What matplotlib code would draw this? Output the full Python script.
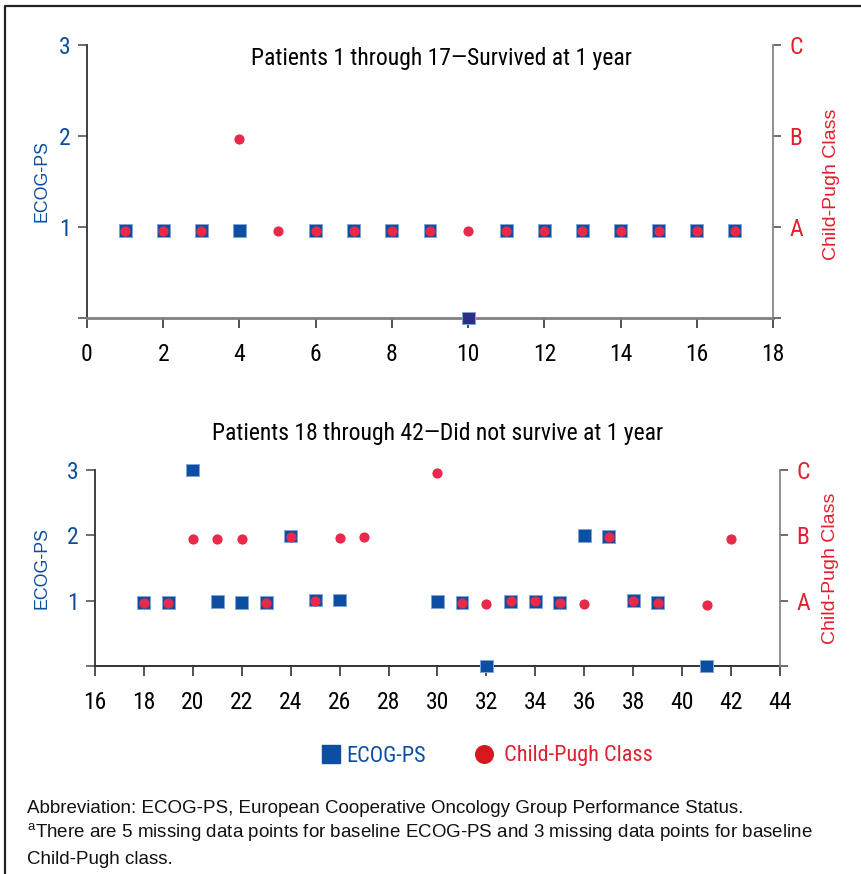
import matplotlib
matplotlib.use("Agg")
import matplotlib.pyplot as plt
import numpy as np
from matplotlib import font_manager
from matplotlib.lines import Line2D

nan = np.nan

# Patients 1-17 (survived at 1 year)
top_patients = list(range(1, 18))
top_ecog = [0.96, 0.96, 0.96, 0.96, nan, 0.96, 0.96, 0.96, 0.96, 0.0,
            0.96, 0.96, 0.96, 0.96, 0.96, 0.96, 0.96]
top_ecog_colors = ["#0b4ea2"] * 9 + ["#2b2e85"] + ["#0b4ea2"] * 7
top_childpugh = [0.96, 0.96, 0.96, 1.97, 0.96, 0.96, 0.96, 0.96, 0.96, 0.96,
                 0.96, 0.96, 0.96, 0.96, 0.96, 0.96, 0.96]

# Patients 18-42 (did not survive at 1 year)
bottom_patients = list(range(18, 43))
bottom_ecog = [0.97, 0.97, 3.0, 0.99, 0.97, 0.97, 1.99, 1.01, 1.01, nan,
               nan, nan, 0.99, 0.97, 0.0, 0.99, 0.99, 0.97, 2.0, 1.98,
               1.0, 0.97, nan, 0.0, nan]
bottom_childpugh = [0.97, 0.97, 1.94, 1.95, 1.95, 0.97, 1.98, 1.0, 1.96, 1.98,
                    nan, nan, 2.96, 0.97, 0.955, 0.99, 0.99, 0.97, 0.955, 1.98,
                    0.99, 0.97, nan, 0.94, 1.95]

ecog_ticks = [0, 1, 2, 3]
ecog_ticklabels = ["", "1", "2", "3"]
cp_ticklabels = ["", "A", "B", "C"]

top_xticks = list(range(0, 19, 2))
bottom_xticks = list(range(16, 45, 2))

BLUE = "#0b4ea2"
RED = "#e8294a"
RED_TXT = "#e0202e"

# pick a condensed sans close to Helvetica Condensed
_installed = {f.name for f in font_manager.fontManager.ttflist}
_narrow_choices = ["Roboto Condensed", "Liberation Sans Narrow", "Archivo Narrow",
                   "PT Sans Narrow", "Fira Sans Condensed", "Barlow Semi Condensed"]
NARROW = [n for n in _narrow_choices if n in _installed][:1] + ["DejaVu Sans"]
REGULAR = ["Liberation Sans", "DejaVu Sans"]

plt.rcParams["font.family"] = NARROW
plt.rcParams["mathtext.fontset"] = "custom"
plt.rcParams["mathtext.rm"] = "Liberation Sans"

W, H = 862, 874
fig = plt.figure(figsize=(W / 100, H / 100), dpi=100)


def px_axes(l, t, r, b):
    return fig.add_axes([l / W, 1 - b / H, (r - l) / W, (b - t) / H])


def draw_panel(ax, x, ecog, ecog_colors, cp, xticks, bottom_color, bottom_lw):
    ax2 = ax.twinx()
    ax.scatter(x, ecog, marker="s", s=86, c=ecog_colors, edgecolors="#7ea6d8",
               linewidths=0.7, clip_on=False, zorder=3)
    ax2.scatter(x, cp, marker="o", s=54, color=RED, linewidths=0,
                clip_on=False, zorder=4)
    for a in (ax, ax2):
        a.set_ylim(0, 3)
        a.set_xlim(xticks[0], xticks[-1])
        a.spines["top"].set_visible(False)
        a.set_facecolor("none")
    ax.spines["right"].set_visible(False)
    ax2.spines["left"].set_visible(False)
    ax2.spines["bottom"].set_visible(False)
    ax.spines["left"].set_color("#333333")
    ax.spines["left"].set_linewidth(1.3)
    ax.spines["bottom"].set_color(bottom_color)
    ax.spines["bottom"].set_linewidth(bottom_lw)
    ax2.spines["right"].set_color("#888888")
    ax2.spines["right"].set_linewidth(1.3)

    ax.set_xticks(xticks)
    ax.set_xticklabels([str(v) for v in xticks])
    ax.set_yticks(ecog_ticks)
    ax.set_yticklabels(ecog_ticklabels)
    ax2.set_yticks(ecog_ticks)
    ax2.set_yticklabels(cp_ticklabels)
    ax.tick_params(axis="x", direction="out", length=7, width=1.2,
                   color="#333333", pad=11, labelsize=17, labelcolor="black")
    ax.tick_params(axis="y", direction="out", length=6.5, width=1.2,
                   color="#555555", pad=5.5, labelsize=17, labelcolor=BLUE)
    ax2.tick_params(axis="y", direction="out", length=6, width=1.2,
                    color="#555555", pad=6, labelsize=17, labelcolor=RED_TXT)

    ax.set_ylabel("ECOG-PS", color=BLUE, fontsize=12.8, family=REGULAR,
                  va="center")
    ax2.set_ylabel("Child-Pugh Class", color=RED_TXT, fontsize=14,
                   family=REGULAR, va="center")
    return ax2


# top panel
ax_top = px_axes(87, 45, 773, 318)
ax_top2 = draw_panel(ax_top, top_patients, top_ecog, top_ecog_colors,
                     top_childpugh, top_xticks, "#808080", 2.0)
ax_top.yaxis.set_label_coords(-0.066, 0.5)
ax_top2.yaxis.set_label_coords(1.086, 0.49)
ax_top.text(0.517, 0.952, "Patients 1 through 17\u2014Survived at 1 year",
            transform=ax_top.transAxes, ha="center", va="center", fontsize=17)

# bottom panel
ax_bot = px_axes(95, 470, 780, 666)
ax_bot2 = draw_panel(ax_bot, bottom_patients, bottom_ecog, [BLUE] * 25,
                     bottom_childpugh, bottom_xticks, "#333333", 1.4)
ax_bot.yaxis.set_label_coords(-0.077, 0.5)
ax_bot2.yaxis.set_label_coords(1.073, 0.5)
ax_bot.text(0.5, 1.184, "Patients 18 through 42\u2014Did not survive at 1 year",
            transform=ax_bot.transAxes, ha="center", va="center", fontsize=17)

# legend
handles = [
    Line2D([], [], marker="s", color=BLUE, linestyle="none", markersize=12.3),
    Line2D([], [], marker="o", color="#d7191f", linestyle="none", markersize=12.7),
]
leg = fig.legend(handles, ["ECOG-PS", " Child-Pugh Class"], loc="center",
                 bbox_to_anchor=(487.5 / W, 1 - 756 / H), ncol=2, frameon=False,
                 handlelength=0.8, handletextpad=0.3, columnspacing=2.2,
                 prop={"family": NARROW, "size": 16})
for txt, col in zip(leg.get_texts(), [BLUE, RED_TXT]):
    txt.set_color(col)

# footnote
notes = [
    "Abbreviation: ECOG-PS, European Cooperative Oncology Group Performance Status.",
    "$^{\\mathrm{a}}$There are 5 missing data points for baseline ECOG-PS and 3 missing data points for baseline",
    "Child-Pugh class.",
]
for i, line in enumerate(notes):
    fig.text(27 / W, 1 - (813 + 25.5 * i) / H, line, family=REGULAR,
             fontsize=13.5, va="baseline", ha="left", color="#111111")

# outer frame (partially cut off on the right and bottom)
fig.add_artist(Line2D([5.5 / W, 5.5 / W, 1.05], [-0.05, 1 - 6 / H, 1 - 6 / H],
                      transform=fig.transFigure, color="#222222", lw=1.6))

fig.savefig("out.png", dpi=100)
